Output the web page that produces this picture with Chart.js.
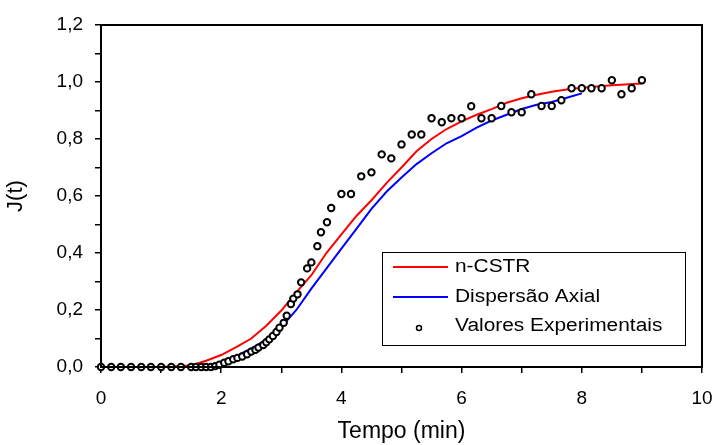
<!DOCTYPE html>
<html>
<head>
<meta charset="utf-8">
<script src="https://cdn.jsdelivr.net/npm/chart.js@4.4.0/dist/chart.umd.min.js"></script>
<style>
  body { margin: 0; background: #fff; }
  #wrap { width: 720px; height: 445px; }
</style>
</head>
<body>
<div id="wrap"><canvas id="myChart" width="720" height="445"></canvas></div>
<script>
// tempo (min) e J(t)
const tempoModelo = [0, 0.5, 1, 1.5, 1.75, 2, 2.25, 2.5, 2.75, 3, 3.25, 3.5, 3.75, 4, 4.25, 4.5, 4.75, 5, 5.25, 5.5, 5.75, 6, 6.25, 6.5, 6.75, 7, 7.25, 7.5, 7.75, 8, 8.5, 9];
const nCSTR = [0, 0, 0, 0.005, 0.022, 0.042, 0.07, 0.1, 0.145, 0.198, 0.262, 0.322, 0.4, 0.465, 0.53, 0.585, 0.645, 0.7, 0.757, 0.8, 0.835, 0.862, 0.885, 0.905, 0.927, 0.943, 0.955, 0.966, 0.974, 0.98, 0.989, 0.995];

const tempoDispersao = [0, 0.5, 1, 1.5, 1.75, 2, 2.25, 2.5, 2.75, 3, 3.25, 3.5, 3.75, 4, 4.25, 4.5, 4.75, 5, 5.25, 5.5, 5.75, 6, 6.25, 6.5, 6.75, 7, 7.25, 7.5, 7.75, 8];
const dispersaoAxial = [0, 0, 0, 0, 0.004, 0.015, 0.038, 0.065, 0.095, 0.14, 0.2, 0.275, 0.345, 0.415, 0.485, 0.555, 0.615, 0.665, 0.712, 0.75, 0.785, 0.81, 0.84, 0.865, 0.885, 0.905, 0.92, 0.93, 0.945, 0.96];

const tempoExp = [0, 0.17, 0.33, 0.5, 0.67, 0.83, 1, 1.17, 1.33, 1.5, 1.58, 1.67, 1.75, 1.83, 1.9, 1.97, 2.05, 2.12, 2.2, 2.27, 2.35, 2.43, 2.5, 2.57, 2.62, 2.7, 2.75, 2.8, 2.86, 2.92, 2.97, 3.04, 3.09, 3.16, 3.2, 3.27, 3.33, 3.43, 3.5, 3.6, 3.66, 3.76, 3.83, 4, 4.16, 4.33, 4.5, 4.67, 4.83, 5, 5.17, 5.33, 5.5, 5.67, 5.83, 6, 6.16, 6.33, 6.5, 6.66, 6.83, 7, 7.16, 7.33, 7.5, 7.66, 7.83, 8, 8.16, 8.33, 8.5, 8.66, 8.83, 9];
const valoresExp = [0, 0, 0, 0, 0, 0, 0, 0, 0, 0, 0, 0, 0, 0, 0.003, 0.008, 0.015, 0.02, 0.027, 0.032, 0.037, 0.045, 0.054, 0.06, 0.068, 0.077, 0.087, 0.097, 0.109, 0.123, 0.138, 0.155, 0.18, 0.221, 0.24, 0.255, 0.297, 0.346, 0.367, 0.424, 0.473, 0.508, 0.558, 0.607, 0.607, 0.669, 0.683, 0.746, 0.732, 0.781, 0.816, 0.816, 0.873, 0.859, 0.873, 0.873, 0.915, 0.873, 0.873, 0.916, 0.894, 0.894, 0.957, 0.916, 0.916, 0.936, 0.978, 0.978, 0.978, 0.978, 1.006, 0.957, 0.978, 1.006];

const xTicks = ["0", "2", "4", "6", "8", "10"];
const yTicks = ["0,0", "0,2", "0,4", "0,6", "0,8", "1,0", "1,2"];

function pares(xs, ys) {
  return xs.map((x, i) => ({ x: x, y: ys[i] }));
}

const FONTE = "'Liberation Sans', Arial, sans-serif";

// moldura em volta da area do grafico + legenda dentro
const moldura = {
  id: "moldura",
  afterDraw(chart) {
    const { ctx, chartArea: a } = chart;
    ctx.save();
    ctx.strokeStyle = "#000";
    ctx.lineWidth = 2;
    ctx.strokeRect(a.left, a.top, a.right - a.left, a.bottom - a.top);

    // legenda
    const lx = a.right - 320, ly = a.bottom - 115, lw = 303, lh = 93;
    ctx.fillStyle = "#fff";
    ctx.fillRect(lx, ly, lw, lh);
    ctx.lineWidth = 1;
    ctx.strokeRect(lx + 0.5, ly + 0.5, lw, lh);

    const ds = chart.data.datasets;
    const linhas = [15, 45, 74];
    ctx.font = "18px " + FONTE;
    ctx.textBaseline = "middle";
    ds.forEach((d, i) => {
      const y = ly + linhas[i];
      if (d.showLine) {
        ctx.strokeStyle = d.borderColor;
        ctx.lineWidth = 2;
        ctx.beginPath();
        ctx.moveTo(lx + 11, y);
        ctx.lineTo(lx + 66, y);
        ctx.stroke();
      } else {
        ctx.beginPath();
        ctx.arc(lx + 37, y + 2, 2.5, 0, Math.PI * 2);
        ctx.fillStyle = "#fff";
        ctx.fill();
        ctx.strokeStyle = "#000";
        ctx.lineWidth = 1.5;
        ctx.stroke();
      }
      // texto um pouco esticado na horizontal, como no original
      ctx.save();
      ctx.translate(lx + 73, y);
      ctx.scale(1.16, 1);
      ctx.fillStyle = "#000";
      ctx.fillText(d.label, 0, 0);
      ctx.restore();
    });
    ctx.restore();
  },
};

const data = {
  datasets: [
    {
      label: "n-CSTR",
      data: pares(tempoModelo, nCSTR),
      showLine: true,
      borderColor: "rgb(255, 0, 0)",
      borderWidth: 2,
      pointRadius: 0,
      tension: 0,
      order: 2,
    },
    {
      label: "Dispersão Axial",
      data: pares(tempoDispersao, dispersaoAxial),
      showLine: true,
      borderColor: "rgb(0, 0, 255)",
      borderWidth: 2,
      pointRadius: 0,
      tension: 0,
      order: 1,
    },
    {
      label: "Valores Experimentais",
      data: pares(tempoExp, valoresExp),
      showLine: false,
      pointRadius: 3.2,
      pointBorderWidth: 2,
      pointBorderColor: "#000",
      pointBackgroundColor: "#fff",
      order: 0,
    },
  ],
};

const config = {
  type: "scatter",
  data: data,
  options: {
    responsive: false,
    animation: false,
    clip: false,
    layout: { padding: { top: 25, right: 18, left: 0, bottom: 0 } },
    plugins: {
      legend: { display: false },
      tooltip: { enabled: false },
    },
    scales: {
      x: {
        type: "linear",
        min: 0,
        max: 10,
        afterFit(scale) {
          scale.height = 78;
          // o "10" pode sair um pouco da area, como no original
          scale.paddingLeft = 0;
          scale.paddingRight = 0;
        },
        border: { display: false },
        grid: {
          drawOnChartArea: false,
          drawTicks: true,
          tickLength: 6,
          lineWidth: 1.5,
          color: "#000",
        },
        ticks: {
          stepSize: 1,
          autoSkip: false,
          maxRotation: 0,
          padding: 14,
          color: "#000",
          font: { size: 19, family: FONTE },
          callback: (v) => (v % 2 === 0 ? xTicks[v / 2] : ""),
        },
        title: {
          display: true,
          text: "Tempo (min)",
          color: "#000",
          font: { size: 23, family: FONTE },
          padding: { top: 0, bottom: 0 },
        },
      },
      y: {
        min: 0,
        max: 1.2,
        afterFit(scale) {
          scale.width = 101;
          scale.paddingTop = 0;
          scale.paddingBottom = 0;
        },
        border: { display: false },
        grid: {
          drawOnChartArea: false,
          drawTicks: true,
          tickLength: 6,
          lineWidth: 1.5,
          color: "#000",
        },
        ticks: {
          stepSize: 0.1,
          autoSkip: false,
          padding: 12,
          color: "#000",
          font: { size: 19, family: FONTE },
          callback: (v) => {
            const k = Math.round(v * 10);
            return k % 2 === 0 ? yTicks[k / 2] : "";
          },
        },
        title: {
          display: true,
          text: "J(t)",
          color: "#000",
          font: { size: 22, family: FONTE },
          padding: { top: 3, bottom: 0 },
        },
      },
    },
  },
  plugins: [moldura],
};

new Chart(document.getElementById("myChart"), config);
</script>
</body>
</html>
